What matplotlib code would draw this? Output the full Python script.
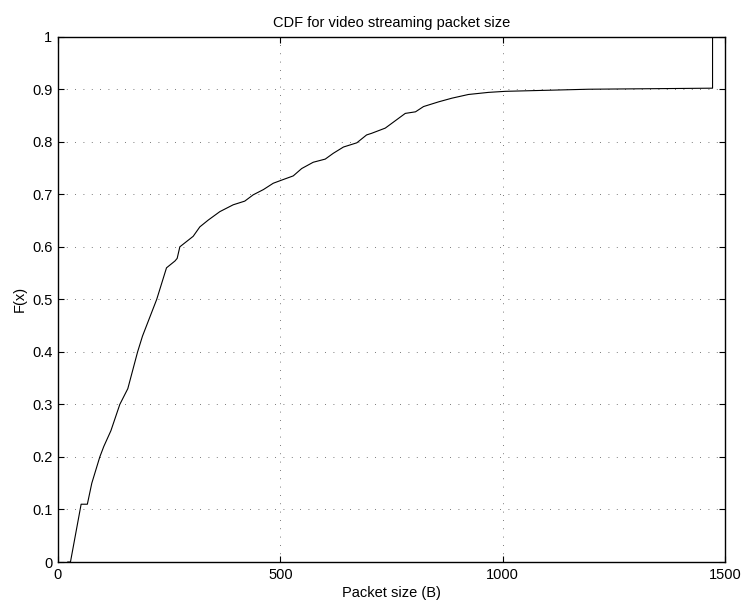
import numpy as np
import matplotlib
matplotlib.use('Agg')
import matplotlib.pyplot as plt

# packet size (B) and cumulative probability
size = [22, 28, 52, 66, 76, 94, 103, 119, 139, 157, 179, 190, 222, 233, 244,
        263, 268, 274, 289, 304, 319, 338, 364, 394, 420, 439, 462, 484, 503,
        529, 548, 574, 601, 619, 642, 672, 694, 705, 736, 781, 804, 822, 856,
        886, 923, 968, 1006, 1193, 1472, 1472]
cdf = [0.0, 0.0, 0.11, 0.11, 0.15, 0.20, 0.22, 0.25, 0.30, 0.33, 0.40, 0.43,
       0.50, 0.53, 0.56, 0.573, 0.578, 0.60, 0.61, 0.62, 0.638, 0.651, 0.667,
       0.68, 0.687, 0.699, 0.709, 0.721, 0.727, 0.735, 0.749, 0.761, 0.767,
       0.778, 0.79, 0.798, 0.813, 0.816, 0.826, 0.854, 0.857, 0.867, 0.876,
       0.883, 0.890, 0.894, 0.896, 0.900, 0.902, 1.0]

plt.rcParams['font.family'] = ['Liberation Sans', 'DejaVu Sans']
plt.rcParams['font.size'] = 10.5

fig = plt.figure(figsize=(7.43, 6.03), dpi=100)
ax = fig.add_axes([58/743, 1-562/603, (725-58)/743, (562-36.7)/603])

ax.plot(size, cdf, color='black', linewidth=0.8)

ax.set_xlim(0, 1500)
ax.set_ylim(0, 1)
ax.set_xticks([0, 500, 1000, 1500])
ax.set_yticks(np.arange(0, 1.01, 0.1))
ax.set_yticklabels(['0', '0.1', '0.2', '0.3', '0.4', '0.5', '0.6', '0.7', '0.8', '0.9', '1'])
ax.tick_params(direction='in', top=True, right=True, length=4, width=0.8, pad=4)
ax.grid(True, linestyle=(0, (1, 9)), color='black', linewidth=0.6, alpha=0.7)
for s in ax.spines.values():
    s.set_linewidth(1.0)

ax.set_title('CDF for video streaming packet size', fontsize=10.5, pad=7)
ax.set_xlabel('Packet size (B)', labelpad=3)
ax.set_ylabel('F(x)', labelpad=4)

plt.savefig('out.png', dpi=100)
